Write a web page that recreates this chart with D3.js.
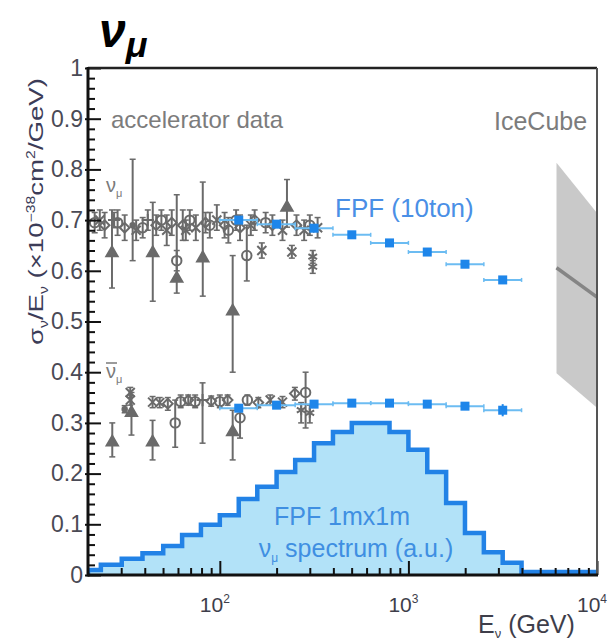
<!DOCTYPE html>
<html>
<head>
<meta charset="utf-8">
<script src="https://cdn.jsdelivr.net/npm/d3@7"></script>
<style>
  body { margin: 0; background: #fff; }
  svg { display: block; }
  text { font-family: "Liberation Sans", Arial, sans-serif; }
</style>
</head>
<body>
<svg id="chart" width="616" height="643"></svg>
<script>
// ---- axes -------------------------------------------------------------
const xDomain = [20, 10000];           // neutrino energy, GeV
const yDomain = [0, 1];                // sigma/E, 1e-38 cm^2/GeV
const xMajorTicks = [100, 1000, 10000];
const xTickExponents = ["2", "3", "4"];
const yMajorTicks = [0, 0.1, 0.2, 0.3, 0.4, 0.5, 0.6, 0.7, 0.8, 0.9, 1];
const yTickLabels = ["0", "0.1", "0.2", "0.3", "0.4", "0.5", "0.6", "0.7", "0.8", "0.9", "1"];

// ---- FPF (10 ton) projected measurement -------------------------------
const fpfE      = [126, 200, 316, 501, 794, 1259, 1995, 3162];
const fpfBinLo  = [100, 158, 251, 398, 631, 1000, 1585, 2512];
const fpfBinHi  = [158, 251, 398, 631, 1000, 1585, 2512, 3981];
const fpfNu     = [0.700, 0.692, 0.684, 0.671, 0.655, 0.637, 0.613, 0.582];
const fpfNuBar  = [0.329, 0.335, 0.337, 0.339, 0.339, 0.337, 0.333, 0.325];
const fpfNuBarErr = [0, 0, 0, 0, 0, 0, 0, 0.012];

// ---- FPF 1m x 1m nu_mu spectrum (arbitrary units) ----------------------
const spectrumEdges = [20, 23.4, 30.2, 38.9, 50.1, 63.1, 79.4, 100, 126, 158, 200, 251,
                       316, 398, 501, 631, 794, 1000, 1259, 1585, 1995, 2512, 3162, 3981, 10000];
const spectrumHeights = [0.010, 0.020, 0.032, 0.043, 0.057, 0.079, 0.099, 0.118, 0.150,
                         0.174, 0.203, 0.227, 0.260, 0.282, 0.300, 0.300, 0.282, 0.247,
                         0.203, 0.142, 0.083, 0.045, 0.024, 0.006];

// ---- IceCube band ------------------------------------------------------
const iceCubeE      = [6100, 10000];
const iceCubeUpper  = [0.813, 0.714];
const iceCubeCentre = [0.606, 0.548];
const iceCubeLower  = [0.398, 0.330];

// ---- accelerator data: [E, value, low, high, marker] -------------------
const accNu = [
  [21.7, 0.695, 0.675, 0.715, "circle"],
  [23.1, 0.700, 0.680, 0.720, "x"],
  [24.5, 0.690, 0.665, 0.715, "diamond"],
  [26.8, 0.635, 0.566, 0.720, "tri"],
  [27.5, 0.700, 0.685, 0.715, "plus"],
  [28.7, 0.695, 0.670, 0.720, "circle"],
  [31.3, 0.685, 0.660, 0.710, "diamond"],
  [34.5, 0.690, 0.620, 0.820, "dot"],
  [36.0, 0.680, 0.660, 0.700, "x"],
  [39.0, 0.685, 0.665, 0.705, "circle"],
  [41.5, 0.700, 0.680, 0.720, "plus"],
  [44.1, 0.635, 0.540, 0.735, "tri"],
  [46.0, 0.690, 0.670, 0.710, "diamond"],
  [49.0, 0.700, 0.680, 0.720, "circle"],
  [52.3, 0.680, 0.650, 0.710, "x"],
  [55.6, 0.695, 0.670, 0.720, "diamond"],
  [59.1, 0.620, 0.600, 0.640, "circle"],
  [59.1, 0.585, 0.556, 0.750, "tri"],
  [63.6, 0.690, 0.660, 0.720, "diamond"],
  [66.0, 0.680, 0.660, 0.700, "x"],
  [69.3, 0.700, 0.680, 0.720, "circle"],
  [74.6, 0.685, 0.660, 0.710, "x"],
  [81.2, 0.625, 0.550, 0.775, "tri"],
  [84.0, 0.695, 0.675, 0.715, "diamond"],
  [88.5, 0.690, 0.665, 0.715, "circle"],
  [96.4, 0.700, 0.680, 0.730, "x"],
  [106, 0.690, 0.665, 0.715, "diamond"],
  [111, 0.680, 0.655, 0.705, "circle"],
  [117, 0.520, 0.400, 0.630, "tri"],
  [122, 0.700, 0.680, 0.720, "circle"],
  [128, 0.685, 0.660, 0.710, "diamond"],
  [139, 0.630, 0.580, 0.690, "circle"],
  [146, 0.690, 0.670, 0.710, "x"],
  [153, 0.700, 0.680, 0.720, "diamond"],
  [167, 0.640, 0.625, 0.655, "x"],
  [175, 0.695, 0.675, 0.715, "circle"],
  [190, 0.690, 0.670, 0.710, "diamond"],
  [215, 0.680, 0.660, 0.700, "x"],
  [227, 0.725, 0.686, 0.780, "tri"],
  [241, 0.637, 0.625, 0.650, "x"],
  [255, 0.690, 0.670, 0.710, "diamond"],
  [280, 0.680, 0.660, 0.700, "x"],
  [300, 0.690, 0.670, 0.710, "circle"],
  [311, 0.628, 0.615, 0.640, "star"],
  [311, 0.608, 0.595, 0.620, "star"],
  [330, 0.685, 0.665, 0.705, "x"]
];
const accNuBar = [
  [26.9, 0.262, 0.233, 0.300, "tri"],
  [31.3, 0.327, 0.320, 0.334, "dot"],
  [33.5, 0.360, 0.350, 0.370, "x"],
  [33.5, 0.345, 0.335, 0.355, "x"],
  [34.0, 0.320, 0.276, 0.360, "tri"],
  [44.0, 0.262, 0.227, 0.305, "tri"],
  [44.0, 0.341, 0.330, 0.352, "x"],
  [48.0, 0.340, 0.330, 0.350, "x"],
  [53.0, 0.338, 0.325, 0.350, "diamond"],
  [58.0, 0.300, 0.252, 0.345, "circle"],
  [62.0, 0.342, 0.330, 0.355, "circle"],
  [68.0, 0.345, 0.335, 0.355, "diamond"],
  [74.0, 0.342, 0.330, 0.355, "circle"],
  [81.0, 0.345, 0.260, 0.379, "plus"],
  [90.0, 0.343, 0.333, 0.353, "diamond"],
  [100, 0.342, 0.330, 0.355, "circle"],
  [110, 0.345, 0.335, 0.355, "diamond"],
  [117, 0.282, 0.227, 0.325, "tri"],
  [128, 0.310, 0.270, 0.330, "circle"],
  [140, 0.345, 0.335, 0.355, "circle"],
  [160, 0.340, 0.330, 0.350, "diamond"],
  [185, 0.345, 0.335, 0.355, "x"],
  [215, 0.341, 0.330, 0.352, "x"],
  [250, 0.358, 0.345, 0.370, "diamond"],
  [270, 0.325, 0.300, 0.340, "star"],
  [285, 0.360, 0.290, 0.400, "circle"],
  [300, 0.320, 0.300, 0.335, "star"]
];

// ---- layout ------------------------------------------------------------
const plot = { left: 88, right: 597, top: 68, bottom: 575 };

const svg = d3.select("#chart");
const x = d3.scaleLog().domain(xDomain).range([plot.left, plot.right]);
const y = d3.scaleLinear().domain(yDomain).range([plot.bottom, plot.top]);

svg.append("defs").append("clipPath").attr("id", "plotClip")
  .append("rect")
  .attr("x", plot.left).attr("y", plot.top)
  .attr("width", plot.right - plot.left).attr("height", plot.bottom - plot.top);

const inner = svg.append("g").attr("clip-path", "url(#plotClip)");

// spectrum histogram
const histPts = [[spectrumEdges[0], 0]];
spectrumHeights.forEach((h, i) => histPts.push([spectrumEdges[i], h]));
histPts.push([spectrumEdges[spectrumEdges.length - 1], spectrumHeights[spectrumHeights.length - 1]]);
histPts.push([spectrumEdges[spectrumEdges.length - 1], 0]);
const stepLine = d3.line().x(d => x(d[0])).y(d => y(d[1])).curve(d3.curveStepAfter);
inner.append("path").attr("d", stepLine(histPts))
  .attr("fill", "#b2e2f8").attr("stroke", "#2282e6").attr("stroke-width", 4.5)
  .attr("stroke-linejoin", "miter");

// IceCube band
const bandPts = [
  [iceCubeE[0], iceCubeUpper[0]], [iceCubeE[1], iceCubeUpper[1]],
  [iceCubeE[1], iceCubeLower[1]], [iceCubeE[0], iceCubeLower[0]]
];
inner.append("path")
  .attr("d", d3.line().x(d => x(d[0])).y(d => y(d[1]))(bandPts) + "Z")
  .attr("fill", "#c9c9c9");
inner.append("line")
  .attr("x1", x(iceCubeE[0])).attr("y1", y(iceCubeCentre[0]))
  .attr("x2", x(iceCubeE[1])).attr("y2", y(iceCubeCentre[1]))
  .attr("stroke", "#858585").attr("stroke-width", 3.5);

// accelerator measurements
const grey = "#6a6a6a";
const symType = {
  tri: d3.symbolTriangle,
  circle: d3.symbolCircle,
  x: d3.symbolTimes || d3.symbolCross,
  diamond: d3.symbolDiamond2 || d3.symbolDiamond,
  star: d3.symbolAsterisk || d3.symbolStar,
  plus: d3.symbolPlus || d3.symbolCross,
  dot: d3.symbolCircle
};
const symSize = { tri: 55, circle: 70, x: 55, diamond: 60, star: 70, plus: 50, dot: 16 };
const symFilled = { tri: true, circle: false, x: false, diamond: false, star: false, plus: false, dot: true };

function drawAcc(data) {
  const g = inner.append("g");
  data.forEach(d => {
    const px = x(d[0]);
    g.append("line").attr("x1", px).attr("x2", px)
      .attr("y1", y(d[2])).attr("y2", y(d[3]))
      .attr("stroke", grey).attr("stroke-width", 2);
    [d[2], d[3]].forEach(v => g.append("line")
      .attr("x1", px - 3).attr("x2", px + 3).attr("y1", y(v)).attr("y2", y(v))
      .attr("stroke", grey).attr("stroke-width", 1.5));
    g.append("path")
      .attr("transform", `translate(${px},${y(d[1])})`)
      .attr("d", d3.symbol().type(symType[d[4]]).size(symSize[d[4]])())
      .attr("fill", symFilled[d[4]] ? grey : "none")
      .attr("stroke", grey).attr("stroke-width", 2);
  });
}
drawAcc(accNu);
drawAcc(accNuBar);

// FPF projected points
const fpfBlue = "#1e86ea", fpfBar = "#6cbcf2";
function drawFpf(vals, errs) {
  const g = inner.append("g");
  vals.forEach((v, i) => {
    const py = y(v);
    g.append("line").attr("x1", x(fpfBinLo[i])).attr("x2", x(fpfBinHi[i]))
      .attr("y1", py).attr("y2", py).attr("stroke", fpfBar).attr("stroke-width", 2);
    [fpfBinLo[i], fpfBinHi[i]].forEach(e => g.append("line")
      .attr("x1", x(e)).attr("x2", x(e)).attr("y1", py - 2).attr("y2", py + 2)
      .attr("stroke", fpfBar).attr("stroke-width", 1.5));
    if (errs && errs[i] > 0) {
      g.append("line").attr("x1", x(fpfE[i])).attr("x2", x(fpfE[i]))
        .attr("y1", y(v - errs[i])).attr("y2", y(v + errs[i]))
        .attr("stroke", fpfBlue).attr("stroke-width", 2);
    }
    g.append("rect").attr("x", x(fpfE[i]) - 4.5).attr("y", py - 4.5)
      .attr("width", 9).attr("height", 9).attr("fill", fpfBlue);
  });
}
drawFpf(fpfNu, null);
drawFpf(fpfNuBar, fpfNuBarErr);

// ---- frame and ticks ----------------------------------------------------
const tickColor = "#111";
const xMinor = [30, 40, 50, 60, 70, 80, 90, 200, 300, 400, 500, 600, 700, 800, 900,
                2000, 3000, 4000, 5000, 6000, 7000, 8000, 9000];
const yMinor = d3.range(0, 1.0001, 0.02).filter(v => Math.abs(v * 10 - Math.round(v * 10)) > 1e-6);

const xAxisMinor = svg.append("g").attr("transform", `translate(0,${plot.bottom})`)
  .call(d3.axisBottom(x).tickValues(xMinor).tickSize(-7).tickSizeOuter(0).tickFormat(""));
const xAxis = svg.append("g").attr("transform", `translate(0,${plot.bottom})`)
  .call(d3.axisBottom(x).tickValues(xMajorTicks).tickSize(-14).tickSizeOuter(0).tickFormat(""));
const yAxisMinor = svg.append("g").attr("transform", `translate(${plot.left},0)`)
  .call(d3.axisLeft(y).tickValues(yMinor).tickSize(-7).tickSizeOuter(0).tickFormat(""));
const yAxis = svg.append("g").attr("transform", `translate(${plot.left},0)`)
  .call(d3.axisLeft(y).tickValues(yMajorTicks).tickSize(-13).tickSizeOuter(0).tickPadding(5)
    .tickFormat((d, i) => yTickLabels[i]));

[xAxisMinor, xAxis, yAxisMinor, yAxis].forEach(a => {
  a.select(".domain").attr("stroke", "none");
  a.selectAll(".tick line").attr("stroke", tickColor).attr("stroke-width", 2);
});
yAxis.selectAll(".tick line").attr("x2", 13).attr("x1", -3);
yAxis.selectAll(".tick text")
  .attr("font-size", 23).attr("fill", "#4a4a55")
  .attr("font-family", "Liberation Sans, Arial, sans-serif");

// frame
svg.append("line").attr("x1", plot.left).attr("x2", plot.right).attr("y1", plot.top).attr("y2", plot.top)
  .attr("stroke", "#222").attr("stroke-width", 2.5);
svg.append("line").attr("x1", plot.right).attr("x2", plot.right).attr("y1", plot.top).attr("y2", plot.bottom)
  .attr("stroke", "#555").attr("stroke-width", 2);
svg.append("line").attr("x1", plot.left).attr("x2", plot.right + 1).attr("y1", plot.bottom).attr("y2", plot.bottom)
  .attr("stroke", "#111").attr("stroke-width", 3);
svg.append("line").attr("x1", plot.left).attr("x2", plot.left).attr("y1", plot.top - 1).attr("y2", plot.bottom + 1.5)
  .attr("stroke", "#111").attr("stroke-width", 3);

// x tick labels with exponent
xMajorTicks.forEach((t, i) => {
  const tx = svg.append("text").attr("x", x(t) - 20).attr("y", 612)
    .attr("font-size", 21).attr("fill", "#3e3e4a");
  tx.append("tspan").text("10");
  tx.append("tspan").attr("dy", -9).attr("font-size", 12).text(xTickExponents[i]);
});

// axis titles
const xt = svg.append("text").attr("x", 478).attr("y", 633).attr("font-size", 25).attr("fill", "#3e3e4a");
xt.append("tspan").text("E");
xt.append("tspan").attr("dy", 5).attr("font-size", 13).text("ν");
xt.append("tspan").attr("dy", -5).text(" (GeV)");

const yt = svg.append("text")
  .attr("transform", "translate(43,345) rotate(-90)")
  .attr("font-size", 21).attr("fill", "#3c3c58")
  .attr("textLength", 267).attr("lengthAdjust", "spacingAndGlyphs");
yt.append("tspan").text("σ");
yt.append("tspan").attr("dy", 5).attr("font-size", 12).text("ν");
yt.append("tspan").attr("dy", -5).text("/E");
yt.append("tspan").attr("dy", 5).attr("font-size", 12).text("ν");
yt.append("tspan").attr("dy", -5).text(" (×10");
yt.append("tspan").attr("dy", -8).attr("font-size", 12).text("−38");
yt.append("tspan").attr("dy", 8).text("cm");
yt.append("tspan").attr("dy", -8).attr("font-size", 12).text("2");
yt.append("tspan").attr("dy", 8).text("/GeV)");

// title
const title = svg.append("text").attr("x", 99).attr("y", 47)
  .attr("font-family", "DejaVu Serif, serif").attr("font-weight", "bold")
  .attr("font-style", "italic").attr("fill", "#000");
title.append("tspan").attr("font-size", 48).text("ν");
title.append("tspan").attr("font-size", 36).attr("dy", 10).text("μ");

// annotations
svg.append("text").attr("x", 111).attr("y", 128).attr("font-size", 24)
  .attr("fill", "#7c7c7c").text("accelerator data");
svg.append("text").attr("x", 494).attr("y", 130).attr("font-size", 25)
  .attr("fill", "#7c7c7c").text("IceCube");
svg.append("text").attr("x", 335).attr("y", 217).attr("font-size", 26)
  .attr("fill", "#4a8fe6").text("FPF (10ton)");
svg.append("text").attr("x", 342).attr("y", 525).attr("font-size", 25)
  .attr("text-anchor", "middle").attr("fill", "#3f8fe2").text("FPF 1mx1m");
const spec = svg.append("text").attr("x", 356).attr("y", 557).attr("font-size", 25)
  .attr("text-anchor", "middle").attr("fill", "#3f8fe2");
spec.append("tspan").text("ν");
spec.append("tspan").attr("dy", 5).attr("font-size", 12).text("μ");
spec.append("tspan").attr("dy", -5).text(" spectrum (a.u.)");

// species labels next to the data
const nuLab = svg.append("text").attr("x", 106).attr("y", 192)
  .attr("font-family", "Liberation Serif, serif").attr("font-size", 20).attr("fill", "#7a7a7a");
nuLab.append("tspan").text("ν");
nuLab.append("tspan").attr("dy", 5).attr("font-size", 11).text("μ");
const nubLab = svg.append("text").attr("x", 106).attr("y", 378)
  .attr("font-family", "Liberation Serif, serif").attr("font-size", 20).attr("fill", "#7a7a7a");
nubLab.append("tspan").text("ν");
nubLab.append("tspan").attr("dy", 5).attr("font-size", 11).text("μ");
svg.append("line").attr("x1", 106).attr("x2", 117).attr("y1", 363).attr("y2", 363)
  .attr("stroke", "#7a7a7a").attr("stroke-width", 1.5);
</script>
</body>
</html>
